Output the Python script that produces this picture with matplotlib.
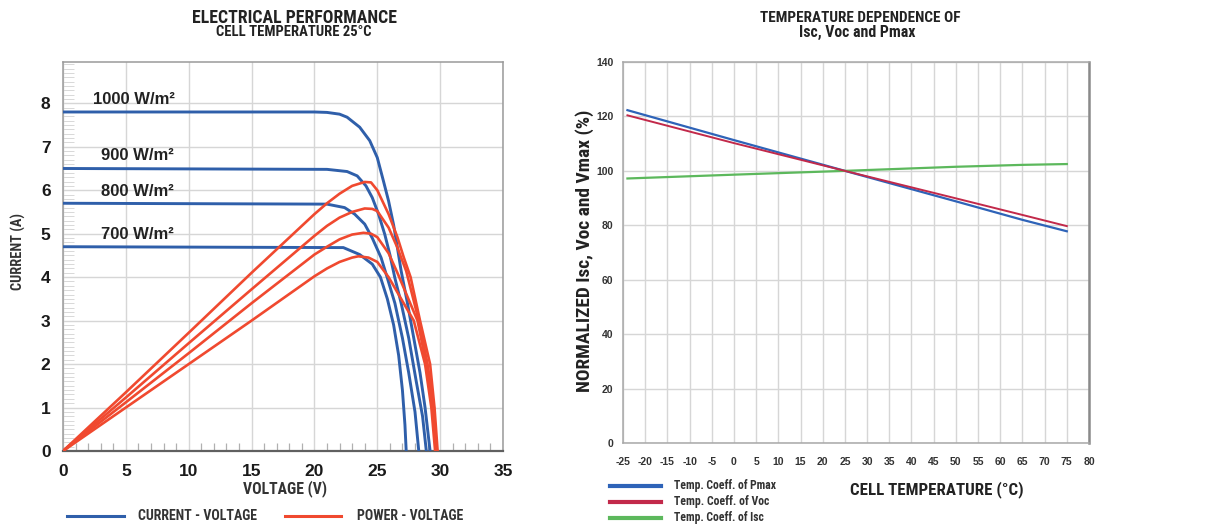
import matplotlib
matplotlib.use("Agg")
import matplotlib.pyplot as plt
from matplotlib import font_manager
from matplotlib.lines import Line2D
from matplotlib.ticker import MultipleLocator

# -------------------------------
# Fonts: bold regular sans + a condensed one for the headings
# -------------------------------
plt.rcParams["font.family"] = "Liberation Sans"
plt.rcParams["font.weight"] = "bold"
plt.rcParams["axes.unicode_minus"] = False

bold_names = {f.name for f in font_manager.fontManager.ttflist if f.weight in (700, "bold") or str(f.weight) == "700"}
NARROW = "Liberation Sans"
for cand in ["Liberation Sans Narrow", "Arial Narrow", "Roboto Condensed", "PT Sans Narrow",
             "Open Sans Condensed", "Asap Condensed"]:
    if cand in bold_names:
        NARROW = cand
        break

# -------------------------------
# Data: I-V curves (blue)
# -------------------------------
irradiance = ["1000 W/m\u00b2", "900 W/m\u00b2", "800 W/m\u00b2", "700 W/m\u00b2"]

iv_v_1000 = [0, 20, 21, 22, 22.6, 23.6, 24.4, 25, 25.5, 25.9, 26.3, 26.6, 26.9, 27.4, 27.9, 28.4, 28.8, 29.2]
iv_i_1000 = [7.8, 7.8, 7.79, 7.75, 7.68, 7.45, 7.14, 6.75, 6.2, 5.75, 5.2, 4.68, 4.14, 3.4, 2.6, 1.8, 1.0, 0]
iv_v_900 = [0, 21, 22.6, 23.4, 24.1, 24.6, 25.1, 25.6, 26.0, 26.4, 26.9, 27.5, 28.1, 28.6, 28.9]
iv_i_900 = [6.5, 6.48, 6.43, 6.33, 6.1, 5.83, 5.45, 4.98, 4.52, 3.98, 3.4, 2.6, 1.6, 0.8, 0]
iv_v_800 = [0, 21, 22.4, 23.2, 24, 24.6, 25.3, 25.8, 26.4, 27.0, 27.5, 28.0, 28.3]
iv_i_800 = [5.7, 5.68, 5.6, 5.45, 5.22, 4.9, 4.45, 3.98, 3.4, 2.6, 1.8, 0.9, 0]
iv_v_700 = [0, 22.3, 23.6, 24.6, 25.25, 25.8, 26.3, 26.7, 27.0, 27.2, 27.3]
iv_i_700 = [4.7, 4.68, 4.52, 4.3, 4.0, 3.5, 2.9, 2.2, 1.4, 0.6, 0]

# -------------------------------
# Data: P-V curves (red), drawn on the same scale
# -------------------------------
pv_v_1000 = [0, 5, 10, 15, 20, 21, 22, 23, 24, 24.5, 25, 25.9, 26.6, 27.1, 27.65, 28.4, 29.2, 29.55, 29.8]
pv_p_1000 = [0, 1.35, 2.72, 4.1, 5.45, 5.7, 5.92, 6.1, 6.19, 6.18, 6.0, 5.45, 4.92, 4.46, 4.0, 3.0, 2.0, 1.0, 0]
pv_v_900 = [0, 5, 10, 15, 20, 21, 22, 23, 24, 24.6, 25, 25.9, 26.6, 27.3, 28.3, 29.0, 29.5, 29.7]
pv_p_900 = [0, 1.23, 2.48, 3.72, 4.95, 5.18, 5.37, 5.5, 5.58, 5.57, 5.52, 5.14, 4.68, 4.14, 3.0, 2.0, 1.0, 0]
pv_v_800 = [0, 5, 10, 15, 20, 21, 22, 23, 23.9, 24.5, 25, 25.9, 26.6, 28.2, 28.9, 29.4, 29.7]
pv_p_800 = [0, 1.12, 2.25, 3.4, 4.52, 4.7, 4.87, 4.98, 5.02, 5.0, 4.92, 4.55, 4.1, 3.0, 2.0, 1.0, 0]
pv_v_700 = [0, 5, 10, 15, 20, 21, 22, 23, 23.5, 24.3, 25, 25.9, 26.9, 27.9, 28.8, 29.3, 29.6]
pv_p_700 = [0, 1.0, 2.0, 3.0, 4.02, 4.2, 4.35, 4.45, 4.48, 4.45, 4.35, 4.0, 3.5, 3.0, 2.0, 1.0, 0]

# -------------------------------
# Data: temperature dependence
# -------------------------------
temp = [-24, 0, 25, 50, 65, 75]
pmax_pct = [122.3, 111.3, 100, 88.8, 82.0, 77.8]
voc_pct = [120.4, 110.2, 100, 89.9, 83.8, 79.7]
isc_pct = [97.2, 98.6, 100, 101.5, 102.2, 102.5]
temp_ticks = list(range(-25, 81, 5))
pct_ticks = list(range(0, 141, 20))

BLUE = "#2f5faa"
RED = "#f0492f"
GRID = "#d6d6d6"

W, H = 1224, 526


def fx(px):
    return px / W


def fy(py):
    return 1 - py / H


fig = plt.figure(figsize=(12.24, 5.26), dpi=100)
fig.patch.set_facecolor("white")
renderer = fig.canvas.get_renderer()


def label(px, py, s, width_px, rotation=0, **kw):
    # place a condensed heading and size it so it spans width_px pixels
    t = fig.text(fx(px), fy(py), s, family=NARROW, fontsize=10, va="center", **kw)
    w = t.get_window_extent(renderer).width
    t.set_fontsize(10 * width_px / w)
    t.set_rotation(rotation)
    return t


# -------------------------------
# 1. Electrical performance
# -------------------------------
ax1 = fig.add_axes([fx(63), fy(451), fx(503) - fx(63), fy(62) - fy(451)])
ax1.set_xlim(0, 35)
ax1.set_ylim(0, 8.95)

for v, i in [(iv_v_1000, iv_i_1000), (iv_v_900, iv_i_900), (iv_v_800, iv_i_800), (iv_v_700, iv_i_700)]:
    ax1.plot(v, i, color=BLUE, lw=2.1, solid_capstyle="round", zorder=3)
for v, p in [(pv_v_1000, pv_p_1000), (pv_v_900, pv_p_900), (pv_v_800, pv_p_800), (pv_v_700, pv_p_700)]:
    ax1.plot(v, p, color=RED, lw=1.9, solid_capstyle="round", zorder=4)

label_pos = [(2.4, 8.09), (3.0, 6.8), (3.0, 5.98), (3.0, 4.97)]
for txt, (lx, ly) in zip(irradiance, label_pos):
    ax1.text(lx, ly, txt, fontsize=12, color="#222222", ha="left", va="center")

ax1.set_xticks(range(0, 36, 5))
ax1.set_yticks(range(0, 9))
ax1.xaxis.set_minor_locator(MultipleLocator(1))
ax1.yaxis.set_minor_locator(MultipleLocator(0.1))
ax1.grid(True, which="major", color=GRID, lw=1.0)
ax1.tick_params(which="major", length=0, labelsize=12.5, labelcolor="#1a1a1a")
ax1.tick_params(axis="x", which="major", pad=9)
ax1.tick_params(axis="y", which="major", pad=9)
ax1.tick_params(axis="x", which="minor", direction="in", length=6, width=0.9, color="#b0b0b0")
ax1.tick_params(axis="y", which="minor", direction="in", length=8, width=0.7, color="#d8d8d8")
for s in ["top", "left", "right"]:
    ax1.spines[s].set_color("#9a9a9a")
    ax1.spines[s].set_linewidth(1.1)
ax1.spines["bottom"].set_color("#606060")
ax1.spines["bottom"].set_linewidth(1.6)

label(294, 18, "ELECTRICAL PERFORMANCE", 204, ha="center", color="#222222")
label(294, 32, "CELL TEMPERATURE 25\u00b0C", 155, ha="center", color="#222222")
label(18, 252, "CURRENT (A)", 76, rotation=90, ha="center", color="#333333")
label(285, 489, "VOLTAGE (V)", 84, ha="center", color="#333333")

fig.add_artist(Line2D([fx(67), fx(124)], [fy(516), fy(516)], color=BLUE, lw=2.2))
label(138, 516, "CURRENT - VOLTAGE", 119, ha="left", color="#333333")
fig.add_artist(Line2D([fx(285), fx(341)], [fy(516), fy(516)], color=RED, lw=2.2))
label(357, 516, "POWER - VOLTAGE", 106, ha="left", color="#333333")

# -------------------------------
# 2. Temperature dependence
# -------------------------------
ax2 = fig.add_axes([fx(623), fy(443), fx(1089) - fx(623), fy(62) - fy(443)])
ax2.set_xlim(-25, 80)
ax2.set_ylim(0, 140)

ax2.plot(temp, pmax_pct, color="#2e63b8", lw=1.6, zorder=3)
ax2.plot(temp, voc_pct, color="#c2294a", lw=1.4, zorder=4)
ax2.plot(temp, isc_pct, color="#5cb85c", lw=1.6, zorder=3)

ax2.set_xticks(temp_ticks)
ax2.set_yticks(pct_ticks)
ax2.grid(True, color=GRID, lw=1.0)
ax2.tick_params(length=0, labelsize=7.5, labelcolor="#333333")
ax2.tick_params(axis="x", pad=10)
ax2.tick_params(axis="y", pad=7)
for s in ["top", "left", "bottom"]:
    ax2.spines[s].set_color("#a8a8a8")
    ax2.spines[s].set_linewidth(1.1)
ax2.spines["right"].set_color("#8a8a8a")
ax2.spines["right"].set_linewidth(1.8)

label(860, 18, "TEMPERATURE DEPENDENCE OF", 199, ha="center", color="#222222")
label(857, 32, "Isc, Voc and Pmax", 117, ha="center", color="#222222")
label(585, 251, "NORMALIZED Isc, Voc and Vmax (%)", 282, rotation=90, ha="center", color="#222222")
label(937, 490, "CELL TEMPERATURE (\u00b0C)", 173, ha="center", color="#222222")

legend_items = [("Temp. Coeff. of Pmax", "#2e63b8", 486, 102), ("Temp. Coeff. of Voc", "#c2294a", 502, 95),
                ("Temp. Coeff. of Isc", "#5cb85c", 518, 90)]
for txt, col, py, wpx in legend_items:
    fig.add_artist(Line2D([fx(610), fx(661)], [fy(py), fy(py)], color=col, lw=3))
    label(674, py, txt, wpx, ha="left", color="#333333")

fig.savefig("out.png", dpi=100)
